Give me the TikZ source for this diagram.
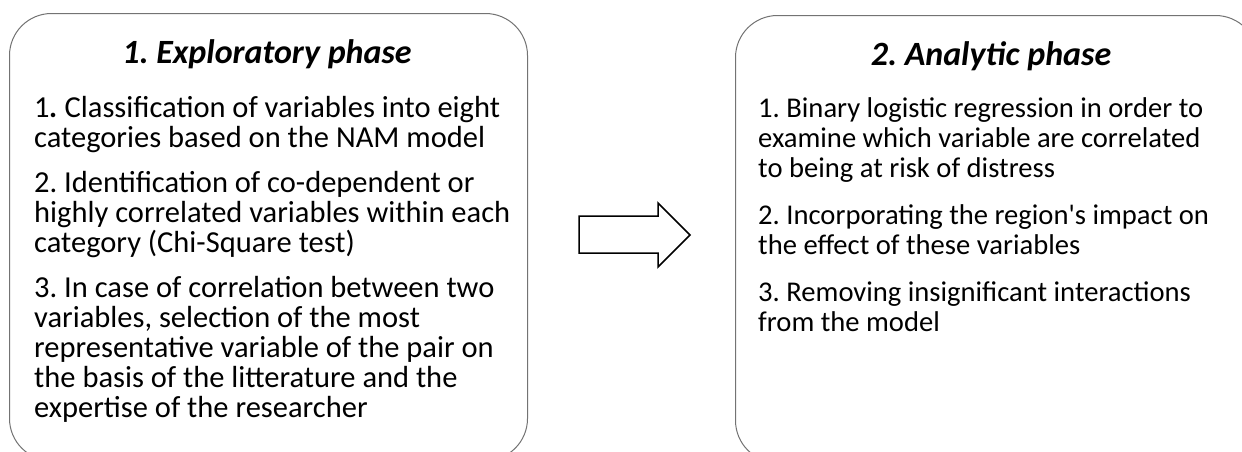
\documentclass[tikz,border=0pt]{standalone}
\usepackage{fontspec}
\setmainfont{Carlito}
\usepackage{tikz}
\usetikzlibrary{positioning}
\frenchspacing

\begin{document}
\begin{tikzpicture}[x=1pt,y=-1pt]
\useasboundingbox (0,0) rectangle (1242,451);
\clip (0,0) rectangle (1242,451);

\begin{scope}[every node/.style={draw=black!55,line width=1pt,rounded corners=42pt,minimum height=447pt,anchor=north west,inner sep=0pt}]
    \node (phaseA)[minimum width=518pt] at (9,13) {};
    \node (phaseB)[minimum width=522pt] at (735,15) {};
\end{scope}

\begin{scope}[every node/.style={inner sep=0pt,anchor=base,font=\fontsize{34}{38}\selectfont\bfseries\itshape}]
    \node (titleA) at (267,63) {1. Exploratory phase};
    \node (titleB) at (991,65) {2. Analytic phase};
\end{scope}

% steps, placed by the baseline of their last line
\begin{scope}[every node/.style={inner sep=0pt,anchor=base west,align=left,font=\fontsize{30.5}{30}\selectfont}]
    \node (stepA1) at (34,147.5) {1\textbf{\textit{.}} Classification of variables into eight\\categories based on the NAM model};
    \node (stepA2) at (34,252) {2. Identification of co-dependent or\\highly correlated variables within each\\category (Chi-Square test)};
    \node (stepA3) at (34,417) {3. In case of correlation between two\\variables, selection of the most\\representative variable of the pair on\\the basis of the litterature and the\\expertise of the researcher};
\end{scope}
\begin{scope}[every node/.style={inner sep=0pt,anchor=base west,align=left,font=\fontsize{28.6}{30}\selectfont}]
    \node (stepB1) at (758,177) {1. Binary logistic regression in order to\\examine which variable are correlated\\to being at risk of distress};
    \node (stepB2) at (758,254) {2. Incorporating the region\textquotesingle s impact on\\the effect of these variables};
    \node (stepB3) at (758,331) {3. Removing insignificant interactions\\from the model};
\end{scope}

% block arrow between the two phases
\draw[line width=1.5pt,line join=miter]
    (579,216) -- (658,216) -- (658,203) -- (690,235) -- (658,267) -- (658,253) -- (579,253) -- cycle;
\end{tikzpicture}
\end{document}
